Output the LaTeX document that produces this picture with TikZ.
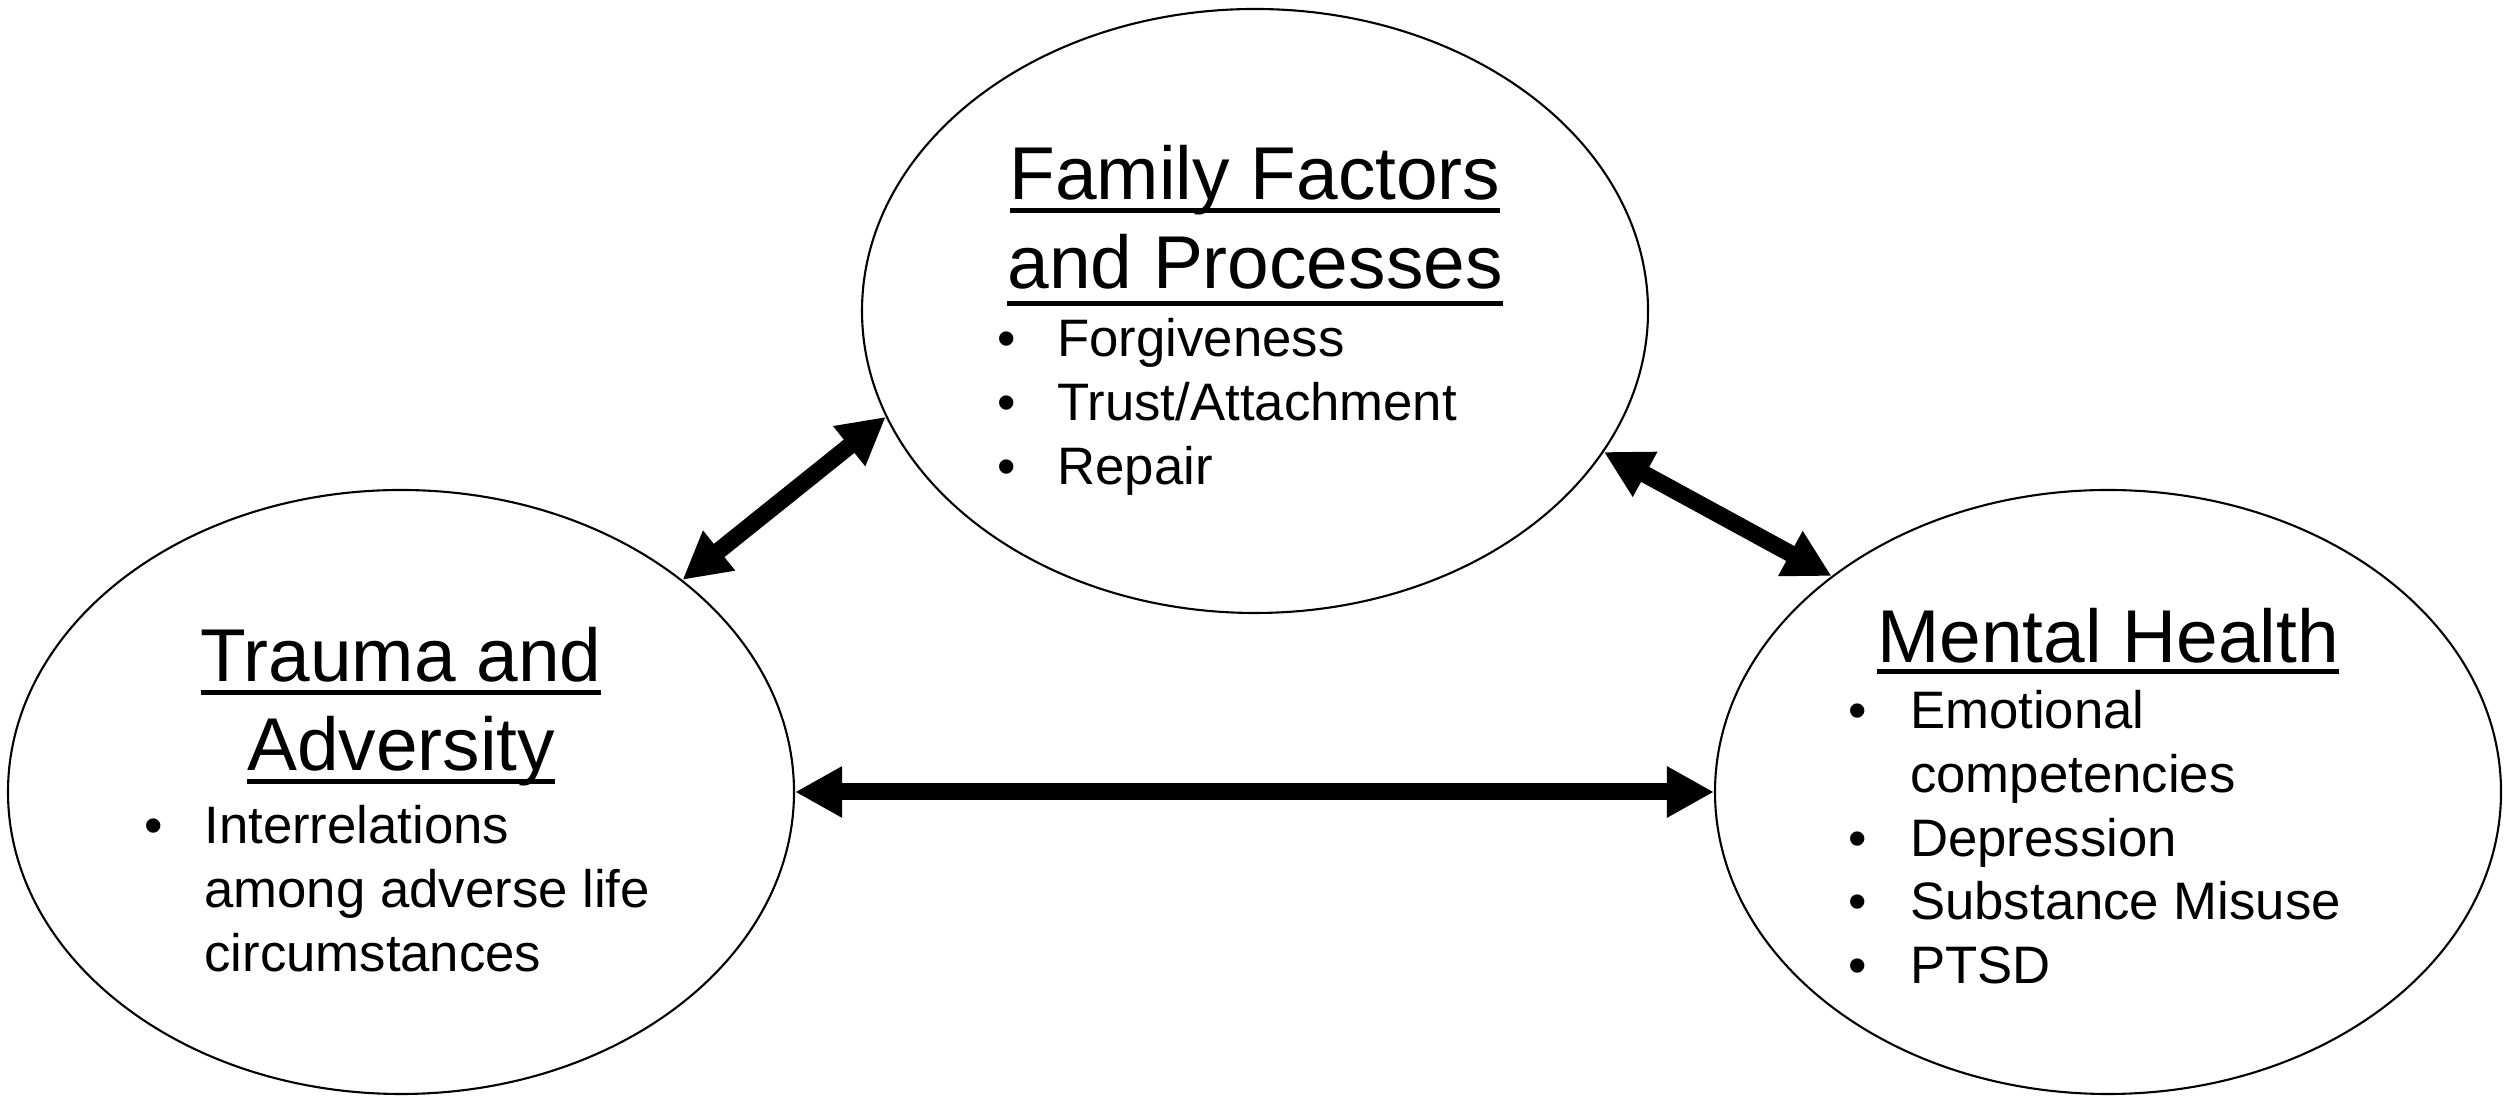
\documentclass[tikz,border=0pt]{standalone}
\usepackage{fontspec}
\setmainfont{Liberation Sans}
\usetikzlibrary{shapes.geometric,arrows.meta}

\newcommand{\headfont}{\fontsize{21.3}{25.3}\selectfont}
\newcommand{\itemfont}{\fontsize{15}{18.1}\selectfont}
% thick underline, #1 = gap below the baseline
\newcommand{\headrule}[2][2.4pt]{\setbox0\hbox{#2}\rlap{\raisebox{-#1}[0pt][0pt]{\rule[-1.4pt]{\wd0}{1.4pt}}}\box0}

\tikzset{
	oval/.style={ellipse, draw, line width=0.6pt, inner sep=0pt, minimum width=7.86cm, minimum height=6.04cm},
	twoway/.style={line width=0.17cm, {Triangle[length=0.47cm,width=0.48cm]}-{Triangle[length=0.47cm,width=0.48cm]}},
	heading/.style={font=\headfont, anchor=base, inner sep=0pt},
	items/.style={font=\itemfont, anchor=base west, inner sep=0pt}
}

\begin{document}
\begin{tikzpicture}
	\useasboundingbox (0,0) rectangle (25.04,10.98);
	% the three circles
	\node[oval] (family) at (12.55,7.87) {};
	\node[oval] (trauma) at (4.01,3.06) {};
	\node[oval] (health) at (21.08,3.06) {};
	% headings
	\node[heading] (familyhead) at (12.55,8.98) {\begin{tabular}[t]{@{}c@{}}\headrule{Family Factors}\\\headrule[3.4pt]{and Processes}\end{tabular}};
	\node[heading] (traumahead) at (4.01,4.16) {\begin{tabular}[t]{@{}c@{}}\headrule{Trauma and}\\\headrule{Adversity}\end{tabular}};
	\node[heading] (healthhead) at (21.08,4.35) {\headrule[1.8pt]{Mental Health}};
	% lists
	\node[items] (familylist) at (9.97,7.41) {\begin{tabular}[t]{@{}p{17pt}@{}l@{}}
		\textbullet & Forgiveness\\
		\textbullet & Trust/Attachment\\
		\textbullet & Repair
	\end{tabular}};
	\node[items] (traumalist) at (1.44,2.54) {\begin{tabular}[t]{@{}p{17pt}@{}l@{}}
		\textbullet & Interrelations\\
		 & among adverse life\\
		 & circumstances
	\end{tabular}};
	\node[items] (healthlist) at (18.48,3.69) {\begin{tabular}[t]{@{}p{17.5pt}@{}l@{}}
		\textbullet & Emotional\\
		 & competencies\\
		\textbullet & Depression\\
		\textbullet & Substance Misuse\\
		\textbullet & PTSD
	\end{tabular}};
	% links
	\draw[twoway] (trauma.37.2) -- (family.196.6);
	\draw[twoway] (family.338.7) -- (health.142.7);
	\draw[twoway] (trauma.east) -- (health.west);
\end{tikzpicture}
\end{document}
